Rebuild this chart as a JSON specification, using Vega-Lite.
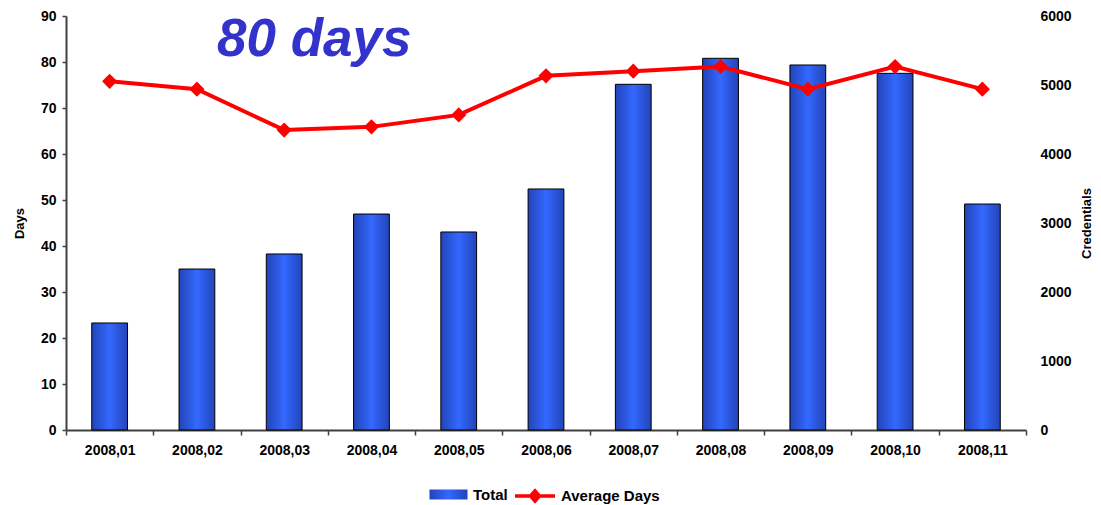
{
  "$schema": "https://vega.github.io/schema/vega-lite/v6.json",
  "width": 960,
  "height": 414,
  "autosize": {"type": "none"},
  "padding": {"left": 66, "top": 16, "right": 75, "bottom": 75},
  "background": "#FFFFFF",
  "title": {
    "text": "80 days",
    "anchor": "start",
    "frame": "group",
    "orient": "top",
    "baseline": "alphabetic",
    "dx": 151,
    "dy": 104,
    "font": "Liberation Sans",
    "fontSize": 53,
    "fontStyle": "italic",
    "fontWeight": "bold",
    "color": "#3333CC"
  },
  "config": {
    "view": {"stroke": null},
    "font": "Liberation Sans",
    "axis": {
      "labelFont": "Liberation Sans",
      "labelFontWeight": "bold",
      "labelFontSize": 14,
      "labelColor": "#000000",
      "titleFont": "Liberation Sans",
      "titleFontWeight": "bold",
      "titleFontSize": 13,
      "titleColor": "#000000",
      "domainColor": "#404040",
      "domainWidth": 2,
      "tickColor": "#404040",
      "tickWidth": 1.5,
      "grid": false
    },
    "legend": {
      "labelFont": "Liberation Sans",
      "labelFontWeight": "bold",
      "labelFontSize": 15,
      "labelColor": "#000000",
      "padding": 0
    }
  },
  "data": {
    "values": [
      {"month": "2008,01", "total": 1551, "avgDays": 75.8},
      {"month": "2008,02", "total": 2333, "avgDays": 74.1},
      {"month": "2008,03", "total": 2551, "avgDays": 65.2},
      {"month": "2008,04", "total": 3130, "avgDays": 65.9},
      {"month": "2008,05", "total": 2870, "avgDays": 68.5},
      {"month": "2008,06", "total": 3493, "avgDays": 77.0},
      {"month": "2008,07", "total": 5010, "avgDays": 78.0},
      {"month": "2008,08", "total": 5387, "avgDays": 79.0},
      {"month": "2008,09", "total": 5290, "avgDays": 74.1},
      {"month": "2008,10", "total": 5169, "avgDays": 79.0},
      {"month": "2008,11", "total": 3275, "avgDays": 74.1}
    ]
  },
  "encoding": {
    "x": {
      "field": "month",
      "type": "ordinal",
      "scale": {"paddingInner": 0, "paddingOuter": 0},
      "axis": {
        "title": null,
        "labelAngle": 0,
        "tickBand": "extent",
        "tickSize": 5,
        "labelPadding": 8
      }
    }
  },
  "layer": [
    {
      "mark": {
        "type": "bar",
        "width": {"band": 0.41},
        "stroke": "#000000",
        "strokeWidth": 1,
        "color": {
          "gradient": "linear",
          "x1": 0, "x2": 1, "y1": 0, "y2": 0,
          "stops": [
            {"offset": 0, "color": "#2244B8"},
            {"offset": 0.5, "color": "#3468FF"},
            {"offset": 1, "color": "#2244B8"}
          ]
        }
      },
      "encoding": {
        "y": {
          "field": "total",
          "type": "quantitative",
          "scale": {"domain": [0, 6000]},
          "axis": {
            "orient": "right",
            "title": "Credentials",
            "titleAngle": -90,
            "values": [0, 1000, 2000, 3000, 4000, 5000, 6000],
            "format": "d",
            "domain": false,
            "ticks": false,
            "labelPadding": 14,
            "titlePadding": 22
          }
        },
        "opacity": {
          "datum": "Total",
          "scale": {"domain": ["Total"], "range": [1]},
          "legend": {
            "title": null,
            "orient": "none",
            "legendX": 363,
            "legendY": 459,
            "symbolType": "M-1,-0.26H1V0.26H-1Z",
            "symbolSize": 1444,
            "symbolFillColor": "#3466FF",
            "symbolStrokeColor": "#000000",
            "symbolStrokeWidth": 1,
            "labelOffset": 5
          }
        }
      }
    },
    {
      "mark": {
        "type": "line",
        "strokeWidth": 4,
        "point": {"shape": "diamond", "size": 230, "filled": true, "fill": "#FF0000", "stroke": "#FF0000", "strokeWidth": 0}
      },
      "encoding": {
        "y": {
          "field": "avgDays",
          "type": "quantitative",
          "scale": {"domain": [0, 90]},
          "axis": {
            "orient": "left",
            "title": "Days",
            "titleAngle": -90,
            "values": [0, 10, 20, 30, 40, 50, 60, 70, 80, 90],
            "tickSize": 4,
            "labelPadding": 6,
            "titlePadding": 14
          }
        },
        "stroke": {
          "datum": "Average Days",
          "scale": {"domain": ["Average Days"], "range": ["#FF0000"]},
          "legend": {
            "title": null,
            "orient": "none",
            "legendX": 447,
            "legendY": 458,
            "symbolType": "M-1,0H1M-0.22,0L0,-0.25L0.22,0L0,0.25Z",
            "symbolSize": 1600,
            "symbolStrokeWidth": 3.5,
            "symbolFillColor": "#FF0000",
            "symbolStrokeColor": "#FF0000",
            "labelOffset": 4
          }
        }
      }
    }
  ],
  "resolve": {"scale": {"y": "independent"}}
}
